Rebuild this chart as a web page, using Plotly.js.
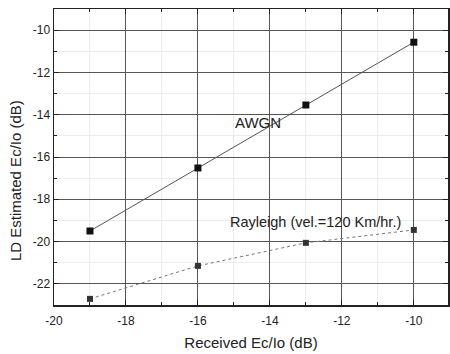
<!DOCTYPE html>
<html><head><meta charset="utf-8">
<script src="https://cdn.plot.ly/plotly-3.0.1.min.js"></script>
<style>html,body{margin:0;padding:0;background:#fff}#c{width:450px;height:354px}</style>
</head><body><div id="c"></div>
<script>
const xVals = [-19, -16, -13, -10];
const awgn = [-19.5, -16.52, -13.54, -10.57];
const rayleigh = [-22.71, -21.15, -20.06, -19.45];
const xTicks = [-20, -18, -16, -14, -12, -10];
const yTicks = [-22, -20, -18, -16, -14, -12, -10];
const xTickText = ['-20', '-18', '-16', '-14', '-12', '-10'];
const yTickText = ['-22', '-20', '-18', '-16', '-14', '-12', '-10'];

const font = 'Liberation Sans, Arial, sans-serif';
const traces = [
  {x: xVals, y: awgn, mode: 'lines+markers', name: 'AWGN',
   line: {color: '#555', width: 1}, marker: {symbol: 'square', size: 7, color: '#111'}},
  {x: xVals, y: rayleigh, mode: 'lines+markers', name: 'Rayleigh',
   line: {color: '#777', width: 1, dash: 'dot'}, marker: {symbol: 'square', size: 6, color: '#333'}}
];
const axisCommon = {
  showline: true, linecolor: '#222', linewidth: 1.5, mirror: 'ticks',
  ticks: 'inside', ticklen: 5, tickcolor: '#222',
  showgrid: true, gridcolor: '#555', gridwidth: 1, zeroline: false,
  tickfont: {family: font, size: 12, color: '#222'},
  minor: {ticks: 'inside', ticklen: 3, tickcolor: '#222', showgrid: true, gridcolor: '#ececec', gridwidth: 1, dtick: 1}
};
const layout = {
  width: 450, height: 354,
  margin: {l: 54, r: 2, t: 9, b: 49},
  paper_bgcolor: '#fff', plot_bgcolor: '#fff',
  showlegend: false,
  xaxis: Object.assign({}, axisCommon, {range: [-20, -9.05], tickvals: xTicks, ticktext: xTickText,
    ticklabelstandoff: 4,
    title: {text: 'Received Ec/Io (dB)', font: {family: font, size: 15, color: '#222'}, standoff: 10}}),
  yaxis: Object.assign({}, axisCommon, {range: [-23, -9], tickvals: yTicks, ticktext: yTickText}),
  annotations: [
    {x: -0.099, y: 0.422, xref: 'paper', yref: 'paper', text: 'LD Estimated Ec/Io (dB)', textangle: -90,
     showarrow: false, xanchor: 'center', yanchor: 'middle', font: {family: font, size: 15, color: '#222'}},
    {x: -15.03, y: -14.39, xref: 'x', yref: 'y', text: 'AWGN', showarrow: false, xanchor: 'left',
     font: {family: font, size: 15, color: '#222'}},
    {x: -15.17, y: -19.07, xref: 'x', yref: 'y', text: 'Rayleigh (vel.=120 Km/hr.)', showarrow: false, xanchor: 'left',
     font: {family: font, size: 14.5, color: '#222'}}
  ]
};
Plotly.newPlot('c', traces, layout, {displayModeBar: false, staticPlot: true});
</script></body></html>
